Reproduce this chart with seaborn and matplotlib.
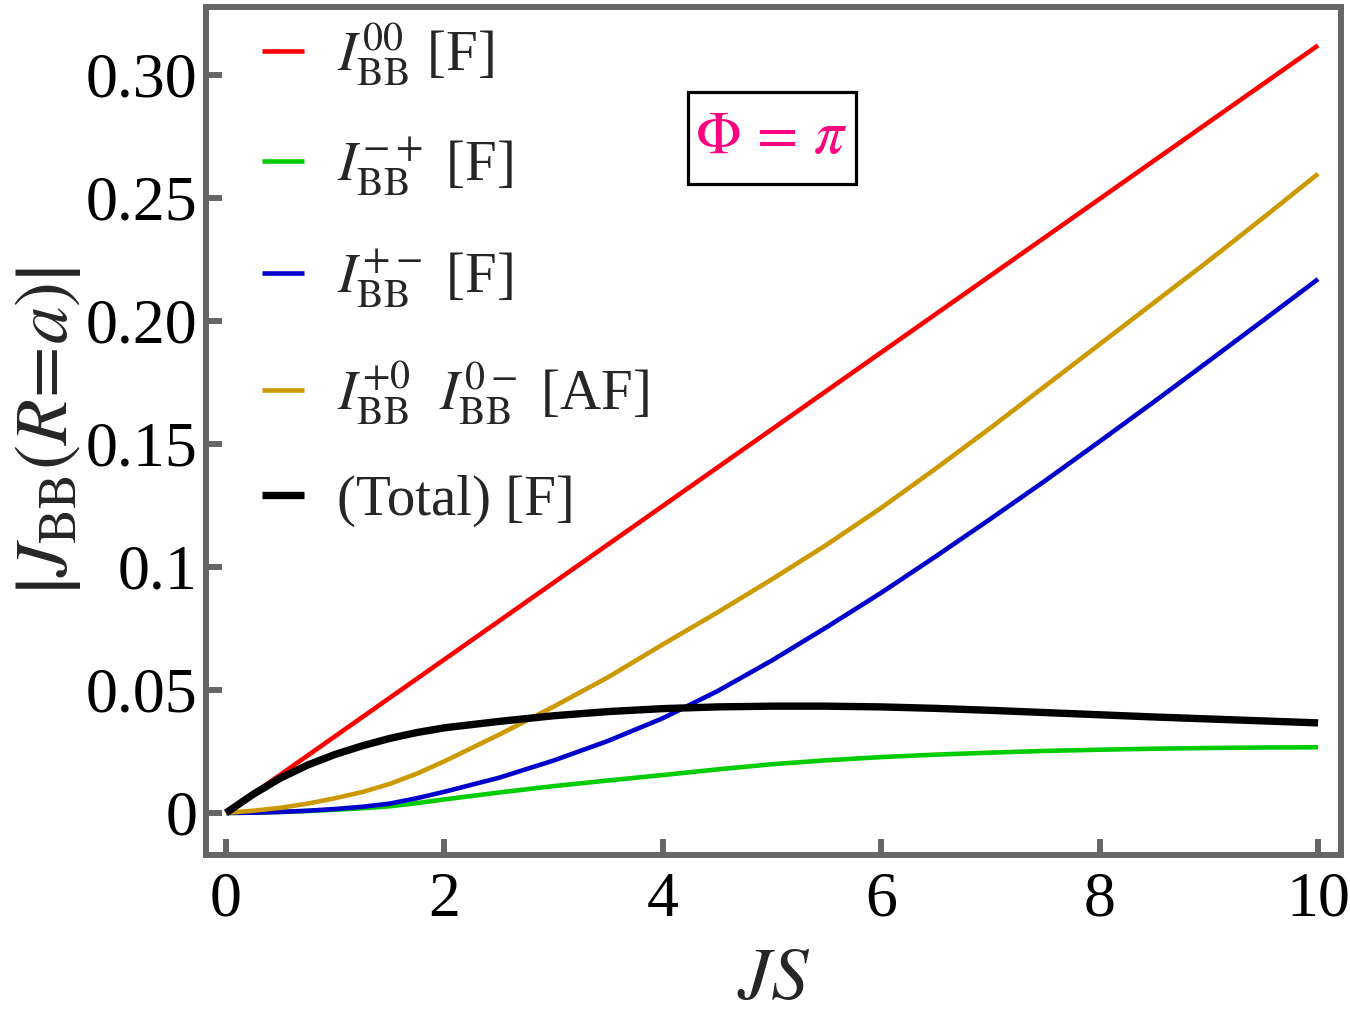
import numpy as np
import pandas as pd
import seaborn as sns
import matplotlib
matplotlib.use("Agg")
import matplotlib.pyplot as plt
from matplotlib.patches import Rectangle

# ---- data ----
js = [0, 0.25, 0.5, 0.75, 1, 1.25, 1.5, 1.75, 2, 2.5, 3, 3.5, 4, 4.5, 5,
      5.5, 6, 6.5, 7, 7.5, 8, 8.5, 9, 9.5, 10]

i00 = [0, 0.0078, 0.0156, 0.0234, 0.0312, 0.0390, 0.0468, 0.0546, 0.0624,
       0.0780, 0.0936, 0.1092, 0.1248, 0.1404, 0.1560, 0.1716, 0.1872,
       0.2028, 0.2184, 0.2340, 0.2496, 0.2652, 0.2808, 0.2964, 0.3120]

i_mp = [0, 0.0001, 0.0004, 0.0008, 0.0013, 0.0019, 0.0027, 0.0040, 0.0055,
        0.0083, 0.0109, 0.0132, 0.0154, 0.0177, 0.0198, 0.0214, 0.0227,
        0.0237, 0.0245, 0.0252, 0.0257, 0.0261, 0.0264, 0.0266, 0.0267]

i_pm = [0, 0.0001, 0.0004, 0.0009, 0.0016, 0.0025, 0.0038, 0.0060, 0.0086,
        0.0143, 0.0213, 0.0293, 0.0385, 0.0495, 0.0620, 0.0755, 0.0895,
        0.1043, 0.1195, 0.1350, 0.1510, 0.1672, 0.1837, 0.2003, 0.2170]

i_af = [0, 0.0009, 0.0021, 0.0038, 0.0060, 0.0085, 0.0118, 0.0160, 0.0210,
        0.0318, 0.0432, 0.0552, 0.0685, 0.0815, 0.0950, 0.1090, 0.1240,
        0.1400, 0.1565, 0.1735, 0.1905, 0.2075, 0.2245, 0.2420, 0.2598]

total = [0, 0.0076, 0.0142, 0.0195, 0.0238, 0.0273, 0.0303, 0.0327, 0.0346,
         0.0372, 0.0395, 0.0412, 0.0424, 0.0431, 0.0434, 0.0434, 0.0431,
         0.0425, 0.0417, 0.0408, 0.0399, 0.0390, 0.0382, 0.0374, 0.0366]

labels = [r"$I_{\mathrm{BB}}^{00}$ [F]",
          r"$I_{\mathrm{BB}}^{-+}$ [F]",
          r"$I_{\mathrm{BB}}^{+-}$ [F]",
          r"$I_{\mathrm{BB}}^{+0}\ \ I_{\mathrm{BB}}^{0-}$ [AF]",
          "(Total) [F]"]
colors = ["#FF0000", "#00CC00", "#0000CC", "#CC9900", "#000000"]
widths = [3.3, 3.3, 3.3, 3.3, 5.3]
series = [i00, i_mp, i_pm, i_af, total]

xticks = [0, 2, 4, 6, 8, 10]
yticks = [0, 0.05, 0.1, 0.15, 0.20, 0.25, 0.30]
yticklabels = ["0", "0.05", "0.1", "0.15", "0.20", "0.25", "0.30"]

# ---- style ----
sns.set_style("white")
plt.rcParams["font.family"] = ["Liberation Serif", "DejaVu Serif"]
plt.rcParams["mathtext.fontset"] = "stix"

W, H = 1350, 1017
fig = plt.figure(figsize=(W / 100, H / 100), dpi=100)
L, R, T, B = 206, 1341, 7, 855
ax = fig.add_axes([L / W, 1 - B / H, (R - L) / W, (B - T) / H])

for y, c, lw, lab in zip(series, colors, widths, labels):
    sns.lineplot(x=js, y=y, color=c, linewidth=lw, label=lab, ax=ax,
                 solid_capstyle="butt", solid_joinstyle="round", sort=False)

ax.set_xlim(-0.183, 10.21)
ax.set_ylim(-0.0171, 0.3276)
ax.set_xticks(xticks)
ax.set_xticklabels([str(t) for t in xticks])
ax.set_yticks(yticks)
ax.set_yticklabels(yticklabels)

frame = "#666666"
for s in ax.spines.values():
    s.set_visible(True)
    s.set_color(frame)
    s.set_linewidth(4.3)
ax.tick_params(axis="both", direction="in", length=11.5, width=4.3,
               color=frame, labelsize=46, labelcolor="black",
               top=False, right=False, bottom=True, left=True)
ax.tick_params(axis="x", pad=12)
ax.tick_params(axis="y", pad=6)

ax.set_xlabel(r"$JS$", fontsize=54, labelpad=13)
ax.set_ylabel(r"$\left|J_{\mathrm{BB}}(R\!=\!a)\right|$", fontsize=54,
              labelpad=2)

handles, labs = ax.get_legend_handles_labels()
leg = ax.legend(handles, labs, loc="upper left",
                bbox_to_anchor=((262 - L) / (R - L), (B - 21) / (B - T)),
                frameon=False, fontsize=41, borderpad=0, borderaxespad=0,
                handlelength=0.74, handletextpad=0.58, labelspacing=0.85)

# Phi = pi label in a box
ax.add_patch(Rectangle(((688 - L) / (R - L), (B - 184) / (B - T)),
                       168 / (R - L), 92 / (B - T), transform=ax.transAxes,
                       facecolor="white", edgecolor="black", linewidth=2.3,
                       zorder=5))
ax.text((771 - L) / (R - L), (B - 139) / (B - T), r"$\Phi\,=\,\pi$",
        transform=ax.transAxes, ha="center", va="center", fontsize=43,
        color="#FF0080", zorder=6)

fig.savefig("out.png", dpi=100)
